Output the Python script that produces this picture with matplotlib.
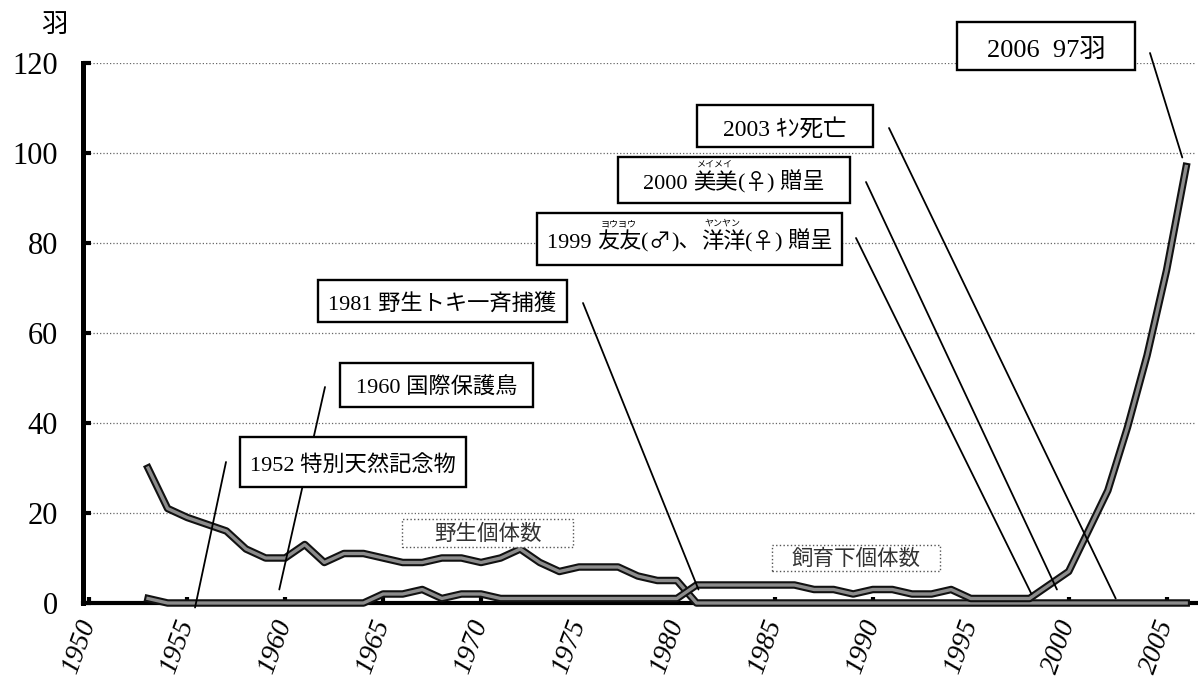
import matplotlib
matplotlib.use('Agg')
import matplotlib.pyplot as plt
import matplotlib.patheffects as pe
from matplotlib.patches import Rectangle

W, H = 1198, 686

# データ
years = list(range(1953, 2007))
wild = [30, 21, 19, 17.5, 16, 12, 10, 10, 13, 9, 11, 11, 10, 9, 9, 10, 10, 9,
        10, 12, 9, 7, 8, 8, 8, 6, 5, 5] + [0] * 26
captive = ([1] + [0] * 11 + [2, 2, 3, 1, 2, 2] + [1] * 10 +
           [4, 4, 4, 4, 4, 4, 3, 3, 2, 3, 3, 2, 2, 3, 1, 1, 1, 1, 4, 7, 16, 25,
            39, 55, 74, 97])
xticks = list(range(1950, 2006, 5))
yticks = list(range(0, 121, 20))

event_labels = ["1952 特別天然記念物", "1960 国際保護鳥", "1981 野生トキ一斉捕獲",
                "1999 友友(♂)、洋洋(♀) 贈呈", "2000 美美(♀) 贈呈",
                "2003 ｷﾝ死亡", "2006  97羽"]
# 引き出し線の先 (年, 羽)
event_targets = [(1955.4, -1), (1959.7, 3), (1981.1, 3), (1998.1, 2),
                 (1999.4, 3), (2002.4, 1), (2005.8, 99)]
# ふりがな
rubies = {3: {"友友": "ヨウヨウ", "洋洋": "ヤンヤン"}, 4: {"美美": "メイメイ"}}
series_labels = ["野生個体数", "飼育下個体数"]

# レイアウト (ピクセル)
event_boxes = [(240, 437, 466, 487), (340, 363, 533, 407), (318, 280, 567, 322),
               (537, 213, 842, 265), (618, 157, 850, 203), (697, 105, 873, 147),
               (957, 22, 1135, 70)]
event_fs = [16, 16, 16, 16, 16, 17, 19]
leader_starts = [(226, 462), (325, 387), (583, 303), (856, 238), (866, 182),
                 (889, 128), (1150, 53)]
series_boxes = [(402, 519, 573, 547), (772, 545, 940, 571)]

serif_jp = ['Liberation Serif', 'Noto Sans CJK JP', 'DejaVu Sans']
sans_jp = ['Noto Sans CJK JP', 'DejaVu Sans']


def fx(x):
    return x / W


def fy(y):
    return 1 - y / H


fig = plt.figure(figsize=(W / 100, H / 100), dpi=100)
ax = fig.add_axes([fx(83), fy(603), fx(1196) - fx(83), fy(63) - fy(603)])

line_fx = [pe.Stroke(linewidth=5.4, foreground='#111111'), pe.Normal()]
ax.plot(years, wild, color='#8c8c8c', lw=2.4, solid_joinstyle='round',
        path_effects=line_fx, clip_on=False, zorder=3)
ax.plot(years, captive, color='#8c8c8c', lw=2.4, solid_joinstyle='round',
        path_effects=line_fx, clip_on=False, zorder=3)

ax.set_xlim(1949.68, 2006.5)
ax.set_ylim(0, 120)
ax.set_xticks(xticks)
ax.set_yticks(yticks)
ax.set_xticklabels([str(y) for y in xticks], rotation=70, ha='right',
                   va='center', rotation_mode='anchor', fontsize=20,
                   family='Liberation Serif', style='italic')
ax.set_yticklabels([str(v) for v in yticks], fontsize=22,
                   family='Liberation Serif')
ax.tick_params(axis='y', direction='in', length=6, width=3, pad=18)
ax.tick_params(axis='x', direction='in', length=4, width=3, pad=13)
ax.grid(axis='y', linestyle=':', color='#666666', lw=0.9)
ax.set_axisbelow(True)
for s in ['top', 'right']:
    ax.spines[s].set_visible(False)
ax.spines['left'].set_linewidth(3.6)
ax.spines['bottom'].set_linewidth(3)

fig.text(fx(54), fy(24), "羽", fontsize=19, family=sans_jp, ha='center',
         va='center')

r = fig.canvas.get_renderer()


def text_w(s, fam, fs):
    t = fig.text(0, 0, s, fontsize=fs, family=fam)
    w = t.get_window_extent(r).width
    t.remove()
    return w


def adv(s, fam, fs):
    # 前後の空白も含めた送り幅
    return text_w('x' + s + 'x', fam, fs) - text_w('xx', fam, fs)


def segments(label, rb):
    segs, cur, i = [], '', 0
    while i < len(label):
        base = next((b for b in rb if label.startswith(b, i)), None)
        if base or label[i] in '♂♀':
            if cur:
                segs.append((cur, None))
                cur = ''
            if base:
                segs.append((base, rb[base]))
                i += len(base)
            else:
                segs.append((label[i], None))
                i += 1
            continue
        cur += label[i]
        i += 1
    if cur:
        segs.append((cur, None))
    return segs


# 出来事の箱と引き出し線
for k, (lab, box, st, tg, fs) in enumerate(zip(event_labels, event_boxes,
                                               leader_starts, event_targets,
                                               event_fs)):
    x0, y0, x1, y1 = box
    fig.patches.append(Rectangle((fx(x0), fy(y1)), fx(x1) - fx(x0),
                                 fy(y0) - fy(y1), transform=fig.transFigure,
                                 facecolor='white', edgecolor='black', lw=1.7,
                                 zorder=5))
    segs = segments(lab, rubies.get(k, {}))
    fams = [sans_jp if s in '♂♀' else serif_jp for s, _ in segs]
    widths = [adv(s, f, fs) for (s, _), f in zip(segs, fams)]
    x = (x0 + x1) / 2 - sum(widths) / 2
    base_y = (y0 + y1) / 2 + fs * 0.56
    for (s, kana), f, w in zip(segs, fams, widths):
        fig.text(fx(x), fy(base_y), s, fontsize=fs, family=f, ha='left',
                 va='baseline', zorder=6)
        if kana:
            fig.text(fx(x + w / 2), fy(base_y - 20), kana, fontsize=6.5,
                     family=sans_jp, ha='center', va='bottom', zorder=7)
        x += w
    ax.annotate('', xy=tg, xycoords='data', xytext=(st[0], H - st[1]),
                textcoords='figure pixels', annotation_clip=False,
                arrowprops=dict(arrowstyle='-', lw=1.3, color='black',
                                shrinkA=0, shrinkB=0), zorder=4)

# 系列ラベル
for lab, box in zip(series_labels, series_boxes):
    x0, y0, x1, y1 = box
    fig.patches.append(Rectangle((fx(x0), fy(y1)), fx(x1) - fx(x0),
                                 fy(y0) - fy(y1), transform=fig.transFigure,
                                 facecolor='white', edgecolor='#555555', lw=1,
                                 linestyle=':', zorder=5))
    fig.text(fx((x0 + x1) / 2), fy((y0 + y1) / 2 + 1), lab, fontsize=15.5,
             family=sans_jp, ha='center', va='center', color='#333333',
             zorder=6)

fig.savefig('out.png', dpi=100)
